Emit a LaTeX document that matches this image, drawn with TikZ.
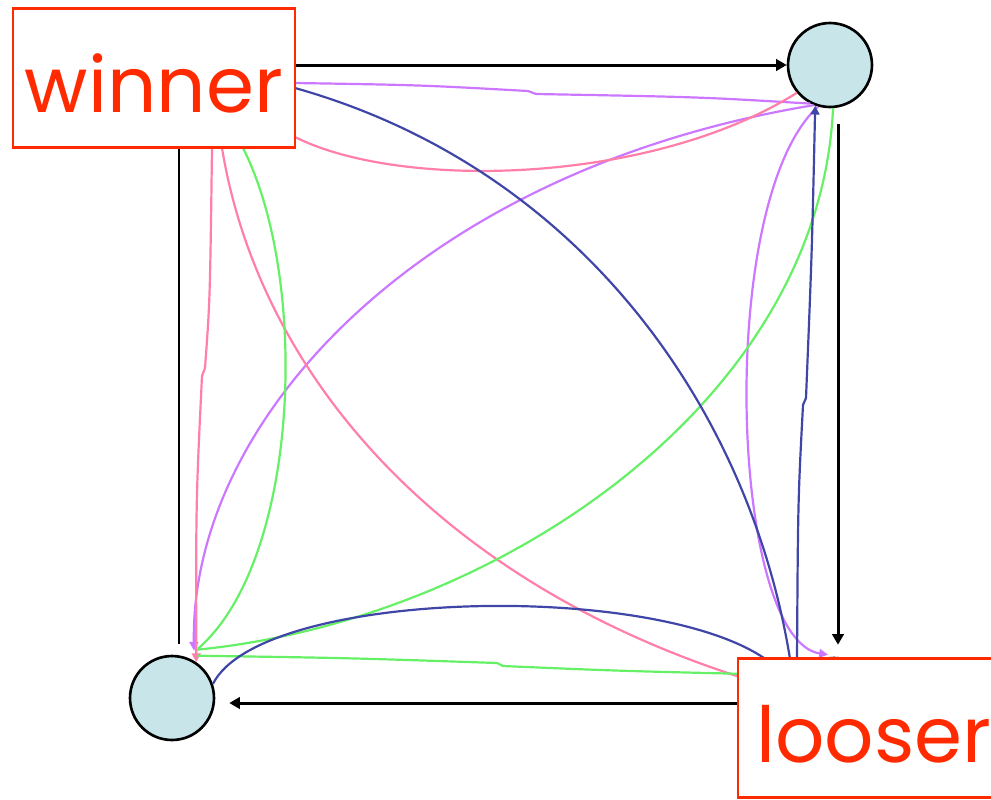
\documentclass[tikz,border=0pt]{standalone}
\usepackage{fontspec}
\newfontfamily\boxfont{Poppins}
\usetikzlibrary{arrows.meta,positioning,calc}
\definecolor{lilac}{HTML}{CC77FF}
\definecolor{rose}{HTML}{FF7FA8}
\definecolor{lime}{HTML}{66F066}
\definecolor{ink}{HTML}{4046A8}
\definecolor{pale}{HTML}{C8E6EA}
\definecolor{flame}{HTML}{FF2A00}

\begin{document}
\begin{tikzpicture}[x=0.02cm,y=-0.02cm,every node/.style={font=\boxfont},
  dot/.style={circle,draw,line width=1.5pt,fill=pale,minimum size=1.68cm,inner sep=0pt},
  tag/.style={draw=flame,line width=1.5pt,fill=white,text=flame,font=\boxfont\fontsize{44}{50}\selectfont,minimum height=2.78cm,inner sep=0pt,text height=1.36cm,text depth=0pt},
  blk/.style={line width=1.7pt,-{Triangle[length=6pt,width=6.5pt]}},
  crv/.style={line width=1.25pt},
  tip/.style={-{Triangle[length=5pt,width=5pt]}}]
\useasboundingbox (0,0) rectangle (991,799);
% players
\foreach \n/\x/\y in {tl/179/65,tr/830/65,bl/172/698,br/834/700}
  \node[dot] (\n) at (\x,\y) {};
% outer cycle
\draw[blk] (tl) -- (tr);
\draw[blk] ($(tr.south)+(8,16)$) -- ($(br.north)+(4,-12)$);
\draw[blk] ($(br.west)+(0,3)$) -- ($(bl.east)+(14,5)$);
\draw[blk] ($(bl.north)+(7,-11)$) -- (tl);
% lilac games
\draw[crv,lilac] ($(tl)+(116,18)$) .. controls (420,85) .. (528,91) -- (536,94) .. controls (700,97) .. (tr.243);
\draw[crv,lilac,tip] (tr.248) .. controls (420,170) and (190,420) .. ($(bl.north)+(22,-4)$);
\draw[crv,lilac,tip] (tr.254) .. controls (715,200) and (730,640) .. ($(br.north)+(-6,-2)$);
% rose games
\draw[crv,rose] ($(tl)+(116,72)$) .. controls (400,190) and (650,185) .. (tr.220);
\draw[crv,rose,tip] ($(tl)+(33,83)$) .. controls (210,300) .. (205,368) -- (202,376) .. controls (196,500) .. (bl.56);
\draw[crv,rose] ($(tl)+(43,83)$) .. controls (260,380) and (450,600) .. ($(br.west)+(0,-8)$);
% lime games
\draw[crv,lime] ($(tl)+(64,83)$) .. controls (310,280) and (300,560) .. ($(bl.north)+(26,-6)$);
\draw[crv,lime] (tr.274) .. controls (820,400) and (500,620) .. ($(bl.north)+(25,-5)$);
\draw[crv,lime] (br.145) .. controls (620,671) .. (503,666) -- (497,663) .. controls (350,658) .. ($(bl.north)+(25,1)$);
% ink games
\draw[crv,ink] ($(tl)+(116,23)$) .. controls (583,169) and (750,412) .. ($(br.north)+(-44,2)$);
\draw[crv,ink] (bl.19) .. controls (260,590) and (650,580) .. ($(br.north)+(-69,2)$);
\draw[crv,ink,tip] ($(br.north)+(-37,2)$) .. controls (798,500) .. (803,405) -- (806,398) .. controls (812,250) .. (tr.250);
% labels
\node[tag,minimum width=5.64cm] (winner) at (154,78) {winner};
\node[tag,minimum width=5.44cm] (looser) at (874,728) {looser};
\end{tikzpicture}
\end{document}
